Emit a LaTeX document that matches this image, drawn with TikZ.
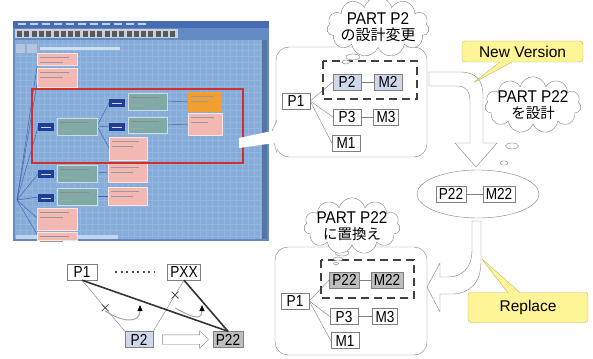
\documentclass[tikz,border=0pt]{standalone}
\usepackage{fontspec}
\setmainfont{Liberation Sans}
\newfontfamily\boxfont{Liberation Sans}[FakeStretch=0.85]
\newfontfamily\cloudfont{Liberation Sans}[FakeStretch=0.9]
\newfontfamily\jpfont{Noto Sans CJK JP}
\usepackage{tikz}
\usetikzlibrary{
    arrows.meta,
    shapes.geometric,
    shapes.misc,
    shapes.symbols,
    shapes.callouts,
    shapes.arrows,
    calc
}
\definecolor{scrframe}{RGB}{100,138,196}
\definecolor{scrtitle}{RGB}{72,108,178}
\definecolor{scrbar}{RGB}{200,208,222}
\definecolor{scrarea}{RGB}{134,172,218}
\definecolor{scrgrid}{RGB}{146,182,224}
\definecolor{treeteal}{RGB}{128,170,165}
\definecolor{treepink}{RGB}{244,184,178}
\definecolor{treeorange}{RGB}{240,160,48}
\definecolor{iconblue}{RGB}{32,62,150}
\definecolor{markred}{RGB}{208,48,48}
\definecolor{partblue}{RGB}{208,216,236}
\definecolor{partgray}{RGB}{190,190,190}
\definecolor{noteyellow}{RGB}{255,244,150}
\definecolor{noteedge}{RGB}{190,180,110}
\tikzstyle{partbox} = [
    draw=gray,
    fill=white,
    minimum width=28pt,
    minimum height=16pt,
    inner xsep=3pt,
    inner ysep=0pt,
    font=\boxfont\fontsize{16}{16}\selectfont
]
\tikzstyle{panel} = [
    draw=gray,
    fill=white,
    rounded corners=13pt
]
\tikzstyle{link} = [
    draw=gray,
    thin
]
\tikzstyle{groupframe} = [
    draw=black!75,
    line width=2.2pt,
    dash pattern=on 8pt off 5pt
]
\tikzstyle{thought} = [
    cloud,
    draw=gray,
    fill=white,
    cloud puffs=11,
    aspect=2.4,
    inner sep=-3pt,
    align=center,
    font=\cloudfont\fontsize{17}{16}\selectfont
]
\tikzstyle{bubble} = [
    draw=gray,
    fill=white
]
\tikzstyle{yellownote} = [
    rectangle callout,
    draw=noteedge,
    fill=noteyellow,
    rounded corners=3pt,
    callout pointer width=12pt,
    font=\fontsize{15.5}{16}\selectfont
]
\tikzstyle{blockarrow} = [
    draw=gray,
    fill=white,
    line join=round
]
\tikzstyle{treeline} = [
    draw=iconblue!80,
    line width=0.5pt
]
\tikzstyle{crossmark} = [
    cross out,
    draw=black!70,
    minimum size=6pt,
    inner sep=0pt,
    line width=0.8pt
]
\tikzstyle{strongline} = [
    draw=black!80,
    line width=1.6pt
]
\tikzstyle{turnarrow} = [
    draw=gray!70,
    line width=1pt,
    -{Triangle[length=6pt, width=5pt, color=black]}
]
\tikzstyle{dotrow} = [
    draw=black!70,
    line width=2pt,
    dash pattern=on 2pt off 3.5pt
]

\begin{document}
\begin{tikzpicture}[x=1pt, y=-1pt]
    \useasboundingbox[fill=white] (0,0) rectangle (593,358);

    % Screenshot of the structure editor
    \fill[scrframe] (13,21) rectangle (269,241);
    \fill[scrtitle] (13,21) rectangle (269,28);
    \foreach \tx in {18,30,...,138} \fill[white!70!scrtitle] (\tx,23.5) rectangle ++(8,2);
    \fill[scrbar] (15,29.5) rectangle (178,38.5);
    \foreach \i in {0,...,21} \fill[black!65] ({17+7.3*\i},31) rectangle ++(5,6);
    \fill[scrarea] (15,40) rectangle (262,239);
    \foreach \gx in {20,26,...,260} \draw[scrgrid, line width=0.3pt] (\gx,40) -- (\gx,239);
    \foreach \gy in {44,50,...,238} \draw[scrgrid, line width=0.3pt] (15,\gy) -- (262,\gy);
    \fill[scrbar!70!scrarea] (16,44.5) rectangle (25,53);
    \fill[scrbar!70!scrarea] (27,44.5) rectangle (37,53);
    \fill[white!60!scrarea] (40,47) rectangle (120,50);
    \fill[scrframe!85!black] (262,40) rectangle (267,239);
    \fill[white!50!scrarea] (16,235) rectangle (118,239);

    % Tree lines
    \coordinate (root) at (17,200);
    \foreach \ty in {60,78,127,174,197,219,236} \draw[treeline] (root) -- (38,\ty);
    \foreach \ty in {103,127,148} \draw[treeline] (97,126) -- (109,\ty);
    \draw[treeline] (167,101) -- (188,102);
    \draw[treeline] (167,125) -- (188,124);
    \draw[treeline] (97,173) -- (108,172);
    \draw[treeline] (97,196) -- (108,196);

    % Tree boxes
    \foreach \xa/\ya/\xb/\yb in {57/118/97/135, 128/93/167/110, 128/117/167/133, 57/165/97/182, 57/188/97/205} {
        \fill[treeteal, draw=white!60!treeteal] (\xa,\ya) rectangle (\xb,\yb);
        \draw[black!45, line width=0.6pt] ({\xa+3},{\ya+4}) -- ({\xb-8},{\ya+4});
        \draw[black!35, line width=0.6pt] ({\xa+3},{\yb-5}) -- ({\xa+16},{\yb-5});
    }
    \foreach \xa/\ya/\xb/\yb in {37/53/77/65, 37/68/77/87, 109/137/147/160, 188/113/222/135, 108/163/147/182, 108/187/147/205, 37/208/77/230, 37/232/77/240} {
        \fill[treepink, draw=white!60!treepink] (\xa,\ya) rectangle (\xb,\yb);
        \draw[black!40, line width=0.6pt] ({\xa+3},{\ya+4}) -- ({\xb-8},{\ya+4});
        \draw[black!40, line width=0.6pt] ({\xa+3},{\ya+9}) -- ({\xb-14},{\ya+9});
    }
    \fill[treeorange] (188,92) rectangle (222,112);
    \draw[black!40, line width=0.6pt] (191,96) -- (214,96);
    \draw[black!40, line width=0.6pt] (191,101) -- (208,101);
    \foreach \xa/\ya in {38/123, 109/99, 109/123, 38/170, 38/194} {
        \fill[iconblue] (\xa,\ya) rectangle ({\xa+16},{\ya+8});
        \draw[white!80!iconblue, line width=0.8pt] ({\xa+3},{\ya+4}) -- ({\xa+13},{\ya+4});
    }

    % Red selection frame
    \draw[markred, line width=2.5pt] (32,89) rectangle (243,163);

    % Panel: before the change
    \node[panel, minimum width=151pt, minimum height=110pt] (oldPanel) at (351.5,102) {};
    \fill[white] (277,120) -- (272,131) -- (239,138) -- (239,148) -- (274,143) -- (277,153) -- cycle;
    \draw[gray] (277,120) -- (272,131);
    \draw[gray] (274,143) -- (277,153);
    \node[partbox] (oldP1) at (296,101) {P1};
    \node[partbox, fill=partblue] (oldP2) at (347,82) {P2};
    \node[partbox, fill=partblue] (oldM2) at (388,82) {M2};
    \node[partbox] (oldP3) at (347,117) {P3};
    \node[partbox, minimum width=24pt] (oldM3) at (386,117) {M3};
    \node[partbox] (oldM1) at (346,143) {M1};
    \draw[link] (oldP1.east) -- (oldP2.west);
    \draw[link] (oldP1.east) -- (oldP3.west);
    \draw[link] (oldP1.east) -- (oldM1.west);
    \draw[link] (oldP2) -- (oldM2);
    \draw[link] (oldP3) -- (oldM3);
    \draw[groupframe] (323,61) rectangle (417,99);
    \draw[bubble] (353,57) ellipse [x radius=7, y radius=3];
    \draw[bubble] (346,62) ellipse [x radius=4, y radius=2];
    \node[thought] (cloudChange) at (378,27) {PART P2\\{\jpfont\fontsize{15}{16}\selectfont の設計変更}};

    % Arrow: new version
    \draw[blockarrow] (429,72) -- (460,72) .. controls (476,72) and (483,80) .. (483,96)
        -- (483,143) -- (497,143) -- (476,167) -- (455,143) -- (470,143) -- (470,100)
        .. controls (470,92) and (466,86) .. (458,86) -- (429,86) -- cycle;
    \node[yellownote, minimum width=121pt, minimum height=21pt, callout absolute pointer={(473,83)}] (noteNew) at (522.5,51.5) {New Version};
    \node[thought] (cloudDesign) at (533,105) {PART P22\\{\jpfont\fontsize{14.5}{16}\selectfont を設計}};
    \draw[bubble] (512,146) ellipse [x radius=6.5, y radius=3];
    \draw[bubble] (504,163) ellipse [x radius=4, y radius=2.2];
    \draw[bubble] (496,178) ellipse [x radius=2.5, y radius=1.5];

    % New part
    \node[ellipse, draw=gray, fill=white, minimum width=122pt, minimum height=48pt] (newPart) at (478,194) {};
    \node[partbox, minimum width=30pt] (newP22) at (451,194) {P22};
    \node[partbox, minimum width=28pt] (newM22) at (499,194) {M22};
    \draw[link] (newP22) -- (newM22);

    % Panel: after the replacement
    \node[panel, minimum width=152pt, minimum height=108pt] (repPanel) at (351,301) {};
    \node[partbox] (repP1) at (295,301) {P1};
    \node[partbox, fill=partgray, minimum width=30pt] (repP22) at (344.5,280) {P22};
    \node[partbox, fill=partgray, minimum width=30pt] (repM22) at (387,280) {M22};
    \node[partbox] (repP3) at (344,316.5) {P3};
    \node[partbox, minimum width=24pt] (repM3) at (385,316.5) {M3};
    \node[partbox] (repM1) at (345,340.5) {M1};
    \draw[link] (repP1.east) -- (repP22.west);
    \draw[link] (repP1.east) -- (repP3.west);
    \draw[link] (repP1.east) -- (repM1.west);
    \draw[link] (repP22) -- (repM22);
    \draw[link] (repP3) -- (repM3);
    \draw[groupframe] (321,260) rectangle (414,298);
    \draw[bubble] (342,253) ellipse [x radius=7, y radius=3];
    \draw[bubble] (338,259) ellipse [x radius=4.5, y radius=2];
    \draw[bubble] (336,263.5) ellipse [x radius=2.5, y radius=1.3];
    \node[thought] (cloudReplace) at (352,226) {PART P22\\{\jpfont\fontsize{14.5}{16}\selectfont に置換え}};

    % Arrow: replace
    \draw[blockarrow] (472,221) -- (472,250) .. controls (472,268) and (462,277) .. (448,277)
        -- (440,277) -- (440,263) -- (427,287) -- (440,312) -- (440,294) -- (452,294)
        .. controls (470,294) and (481,282) .. (481,262) -- (481,221) -- cycle;
    \node[yellownote, minimum width=120pt, minimum height=30pt, callout absolute pointer={(481,258)}] (noteReplace) at (528,307.5) {Replace};

    % Sketch of the part swap
    \node[partbox, minimum width=30pt] (sP1) at (82,272) {P1};
    \node[partbox, minimum width=28pt] (sPXX) at (184,272) {PXX};
    \node[partbox, fill=partblue] (sP2) at (139,339.5) {P2};
    \node[partbox, fill=partgray, minimum width=30pt] (sP22) at (228,339.5) {P22};
    \draw[dotrow, shorten <=18pt, shorten >=13pt] (sP1.east) -- (sPXX.west);
    \draw[link] (sP1.south) -- (sP2.north west) node[crossmark, pos=0.54] {};
    \draw[link] (sPXX.south) -- (sP2.north east) node[crossmark, pos=0.29] {};
    \draw[strongline] (sP1.south) -- (sP22.north);
    \draw[strongline] (sPXX.south) -- (sP22.north);
    \coordinate (turnA) at (105,311);
    \coordinate (turnAend) at (140,305);
    \coordinate (turnB) at (175,308);
    \coordinate (turnBend) at (202,305);
    \draw[turnarrow] (turnA) .. controls (122,322) and (140,324) .. (turnAend);
    \draw[turnarrow] (turnB) .. controls (190,316) and (202,322) .. (turnBend);
    \node[single arrow, draw=gray, fill=white, minimum height=46pt, inner sep=4.5pt, single arrow head extend=4pt] (swapArrow) at ($(sP2.east)!0.5!(sP22.west)$) {};
\end{tikzpicture}
\end{document}
